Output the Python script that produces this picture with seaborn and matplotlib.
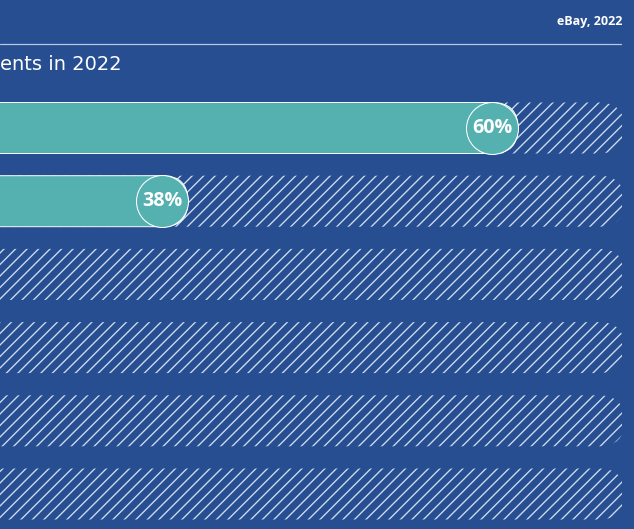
import matplotlib
matplotlib.use("Agg")
import matplotlib.pyplot as plt
from matplotlib.lines import Line2D
from matplotlib.patches import FancyBboxPatch
import seaborn as sns

# Rows of the chart and the shares that are shown for them
rows = ["A", "B", "C", "D", "E", "F"]
shown_rows = ["A", "B"]
shares = [60, 38]
track_end = 67.1  # length of the hatched background track

header = "eBay, 2022"
title_tail = "ents in 2022"

BG = "#274e90"
TEAL = "#55b1b0"
HATCH = "#cddcf0"
RULE = "#b8c8e2"

DPI = 69
W, H = 634, 529

sns.set_theme(style="white")
plt.rcParams["font.family"] = ["Open Sans", "DejaVu Sans"]
plt.rcParams["hatch.linewidth"] = 1.4

fig = plt.figure(figsize=(W / DPI, H / DPI), dpi=DPI)
fig.patch.set_facecolor(BG)
ax = fig.add_axes([0, 0, 622 / W, 1])
ax.set_facecolor("none")

# background tracks, then the value bars on top
sns.barplot(x=[track_end] * len(rows), y=rows, order=rows, orient="h",
            width=0.697, color=BG, saturation=1, ax=ax)
n_track = len(ax.patches)
sns.barplot(x=shares, y=shown_rows, order=rows, orient="h",
            width=0.697, color=TEAL, saturation=1, ax=ax)

px_per_x = 15.0      # pixels per percentage point
px_per_row = 73.2    # pixels between row centres
aspect = px_per_x / px_per_row
r = 25.5 / px_per_x  # end-cap radius in x units

# replace the square bars by pill shapes
for i, p in enumerate(list(ax.patches)):
    x0, y0, w, h = p.get_x(), p.get_y(), p.get_width(), p.get_height()
    p.remove()
    style = f"round,pad=0,rounding_size={r}"
    if i < n_track:
        pill = FancyBboxPatch((x0, y0), w, h, boxstyle=style, mutation_aspect=aspect,
                              facecolor="none", edgecolor=HATCH, linewidth=0,
                              hatch="//", zorder=1)
    else:
        pill = FancyBboxPatch((x0, y0), w, h, boxstyle=style, mutation_aspect=aspect,
                              facecolor=TEAL, edgecolor="white", linewidth=1.0,
                              zorder=2)
    ax.add_patch(pill)

# value badges at the end of each bar
ypos = [rows.index(c) for c in shown_rows]
cx = [v - r for v in shares]
diam_pt = 52 * 72 / DPI
ax.scatter(cx, ypos, s=diam_pt ** 2, color=TEAL, edgecolors="white",
           linewidths=1.1, zorder=3)
for x, y, v in zip(cx, ypos, shares):
    ax.text(x, y, f"{v}%", ha="center", va="center", color="white",
            fontsize=20.5, fontweight="bold", zorder=4)

ax.set_xlim(382 / px_per_x, (622 + 382) / px_per_x)
ax.set_ylim((H - 128) / px_per_row, -128 / px_per_row)
ax.axis("off")

fig.text(622 / W, 1 - 22 / H, header, ha="right", va="center",
         fontsize=13, fontweight="bold", color="white")
fig.add_artist(Line2D([0, 621 / W], [1 - 43.5 / H] * 2, color=RULE, lw=1.3,
                      transform=fig.transFigure))
fig.text(0, 1 - 64 / H, title_tail, ha="left", va="center",
         fontsize=20.3, color="white", family=["DejaVu Sans"])

fig.savefig("out.png", dpi=DPI, facecolor=BG)
